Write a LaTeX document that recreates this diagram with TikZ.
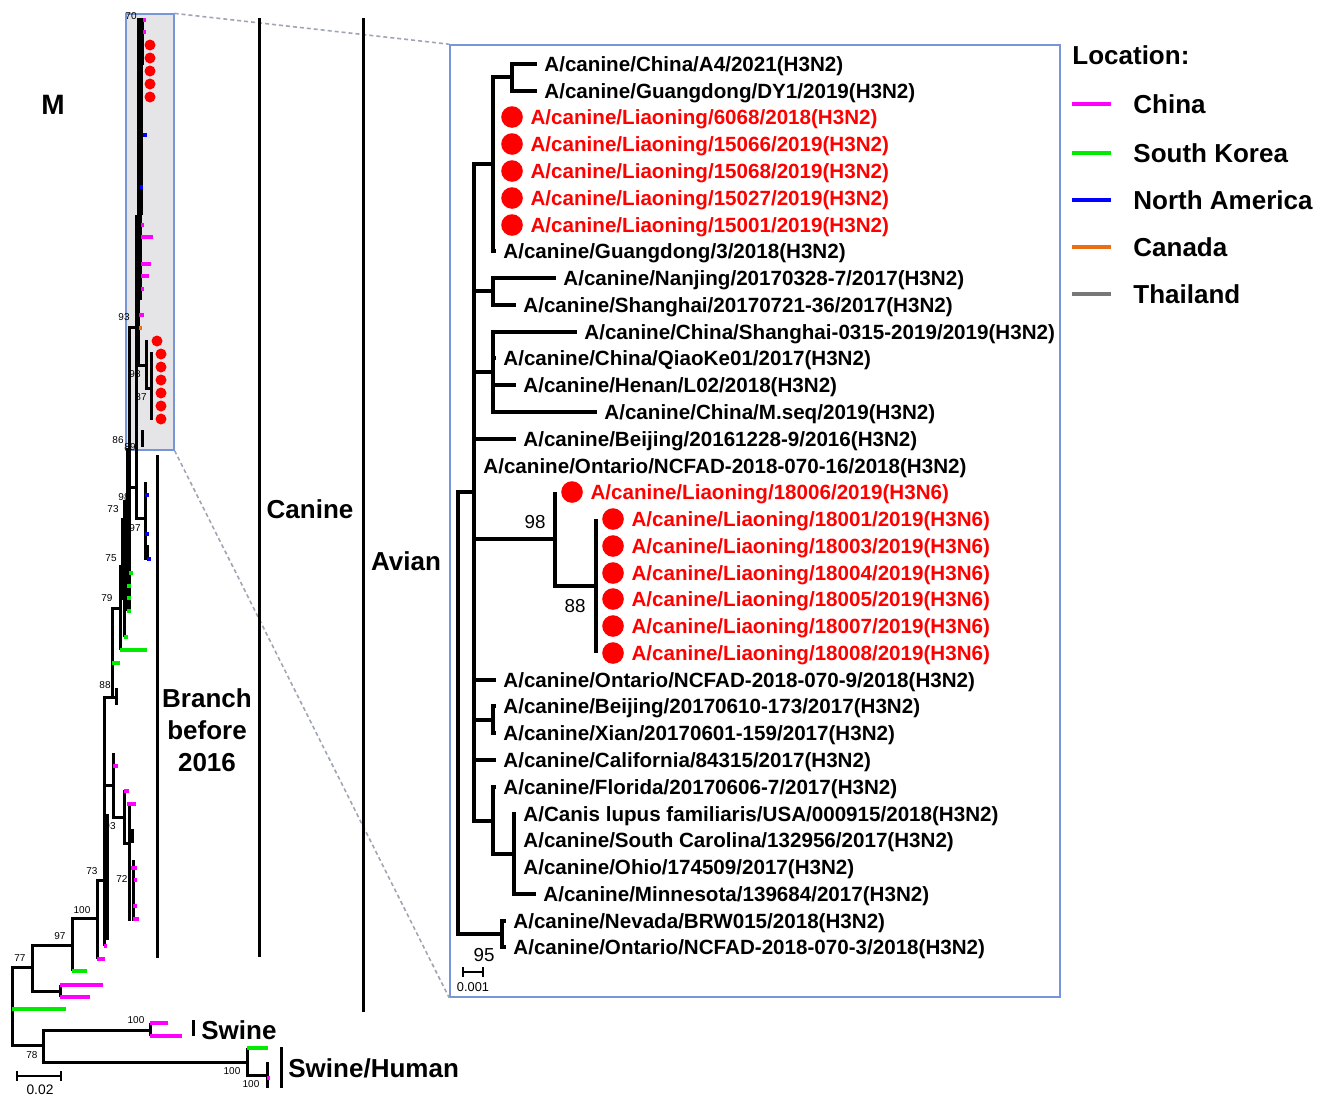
\documentclass[tikz,border=0pt]{standalone}
\usepackage{fontspec}
\setmainfont{Liberation Sans}
\usetikzlibrary{positioning}
\definecolor{cnpink}{RGB}{255,0,255}
\definecolor{krgreen}{RGB}{0,235,0}
\definecolor{nablue}{RGB}{0,0,255}
\definecolor{caorange}{RGB}{235,110,20}
\definecolor{thgray}{RGB}{120,120,120}
\definecolor{boxblue}{RGB}{120,150,215}
\definecolor{focusgray}{RGB}{229,229,231}
\definecolor{linkgray}{RGB}{160,165,180}
\definecolor{hitred}{RGB}{255,0,0}
\tikzset{
  twig/.style={line width=1.5pt},
  itwig/.style={line width=2.2pt},
  ctip/.style={line width=1.7pt},
  lbl/.style={font=\bfseries\fontsize{10.3}{12}\selectfont, inner xsep=3.5pt, inner ysep=0pt,
    text height=7.4pt, text depth=0pt, anchor=west},
  redlbl/.style={lbl, text=hitred},
  hitdot/.style={circle, fill=hitred, inner sep=0pt, minimum size=10.8pt},
  smalldot/.style={circle, fill=hitred, inner sep=0pt, minimum size=5.5pt},
  boot/.style={font=\fontsize{5}{6}\selectfont, inner sep=0pt},
  iboot/.style={font=\fontsize{9.4}{11}\selectfont, inner sep=0pt},
  clade/.style={font=\bfseries\fontsize{13}{16}\selectfont, inner sep=0pt, align=center},
  key/.style={font=\bfseries\fontsize{13}{15}\selectfont, inner sep=0pt, anchor=west},
  link/.style={linkgray, line width=0.8pt, dash pattern=on 2pt off 1.5pt},
}
\begin{document}
\begin{tikzpicture}[x=0.5pt,y=-0.5pt]
  \useasboundingbox (0,0) rectangle (1325,1103);
  \node[draw=boxblue, fill=focusgray, line width=0.6pt, minimum width=24pt, minimum height=218pt,
    inner sep=0pt] (focus) at (150,232) {};
  \node[draw=boxblue, line width=0.8pt, minimum width=305pt, minimum height=476pt,
    inner sep=0pt] (inset) at (755,521) {};
  \draw[link] (focus.north east) -- (inset.north west);
  \draw[link] (focus.south east) -- (inset.south west);

  \begin{scope}[twig]
    \draw (32,967) -| (12,1045) -- (43,1045);
    \draw (60,991) -| (32,945) -- (72,945);
    \draw (60,985) -- (60,997);
    \draw (72,971) |- (97,918);
    \draw (97,959) -- (97,880) -- (104,880);
    \draw (104,946) -- (104,697) -- (116,697);
    \draw (107,814) -- (107,940);
    \draw (116,688) -- (116,705);
    \draw (112,697) -- (112,608) -- (120,608);
    \draw (120,650) -- (120,566) -- (124,566);
    \draw (124,637) -- (124,500);
    \draw (127,611) -- (127,448);
    \draw (122,518) -- (122,600);
    \draw (129,610) -- (129,327) -- (136,327);
    \draw (129,487) -- (136,487);
    \draw (136,327) -- (136,518) -- (145,518);
    \draw (145,482) -- (145,560);
    \draw (147,545) -- (147,560);
    \draw (138,18) -- (138,365) -- (146,365);
    \draw (141,18) -- (141,215);
    \draw (140,60) -- (140,300);
    \draw (142,18) -- (142,65);
    \draw (136,215) -- (136,327);
    \draw (142,430) -- (142,447);
    \draw (146,340) -- (146,388) -- (151,388);
    \draw (151,352) -- (151,420);
    \draw (104,785) -- (113,785);
    \draw (113,753) -- (113,817) -- (124,817);
    \draw (124,790) -- (124,843) -- (129,843);
    \draw (129,803) -- (129,921);
    \draw (132,829) -- (132,843);
    \draw (133,860) -- (133,921);
    \draw (150,1030) -| (43,1062) -- (247,1062);
    \draw (150,1023) -- (150,1036);
    \draw (247,1048) -- (247,1075) -- (267,1075);
    \draw (267,1062) -- (267,1088);
  \end{scope}

  \begin{scope}[ctip, cnpink]
    \draw (60,985) -- (103,985);
    \draw (60,997) -- (90,997);
    \draw (97,959) -- (105,959);
    \draw (104,946) -- (107,946);
    \draw (113,766) -- (118,766);
    \draw (124,791) -- (129,791);
    \draw (127,804) -- (136,804);
    \draw (131,868) -- (137,868);
    \draw (134,880) -- (137,880);
    \draw (133,906) -- (137,906);
    \draw (133,919) -- (139,919);
    \draw (150,1023) -- (168,1023);
    \draw (150,1036) -- (182,1036);
    \draw (267,1078) -- (270,1078);
    \draw (143,20) -- (146,20);
    \draw (143,32) -- (146,32);
    \draw (141,225) -- (144,225);
    \draw (141,237) -- (153,237);
    \draw (141,264) -- (151,264);
    \draw (141,276) -- (149,276);
    \draw (141,289) -- (144,289);
    \draw (139,315) -- (144,315);
  \end{scope}
  \begin{scope}[ctip, krgreen]
    \draw (12,1009) -- (66,1009);
    \draw (72,971) -- (87,971);
    \draw (247,1048) -- (268,1048);
    \draw (120,650) -- (147,650);
    \draw (112,663) -- (120,663);
    \draw (124,637) -- (128,637);
    \draw (127,611) -- (131,611);
    \draw (127,598) -- (131,598);
    \draw (127,586) -- (131,586);
    \draw (129,573) -- (133,573);
  \end{scope}
  \begin{scope}[ctip, nablue]
    \draw (143,135) -- (147,135);
    \draw (140,187) -- (143,187);
    \draw (145,495) -- (149,495);
    \draw (145,534) -- (149,534);
    \draw (147,559) -- (151,559);
  \end{scope}
  \draw[ctip, caorange] (139,328) -- (142,328);

  \node[smalldot] (m1) at (150,45) {};
  \node[smalldot] (m2) at (150,58) {};
  \node[smalldot] (m3) at (150,71) {};
  \node[smalldot] (m4) at (150,84) {};
  \node[smalldot] (m5) at (150,97) {};
  \node[smalldot] (m6) at (157,341) {};
  \node[smalldot] (m7) at (161,354) {};
  \node[smalldot] (m8) at (161,367) {};
  \node[smalldot] (m9) at (161,380) {};
  \node[smalldot] (m10) at (161,393) {};
  \node[smalldot] (m11) at (161,406) {};
  \node[smalldot] (m12) at (161,419) {};

  \node[boot] (b70) at (131,16) {70};
  \node[boot] (b93) at (124,317) {93};
  \node[boot] (b98) at (135,374) {98};
  \node[boot] (b87) at (141,397) {87};
  \node[boot] (b86) at (118,440) {86};
  \node[boot] (b89) at (130,447) {89};
  \node[boot] (b98b) at (124,497) {98};
  \node[boot] (b73) at (113,509) {73};
  \node[boot] (b97) at (135,528) {97};
  \node[boot] (b75) at (111,558) {75};
  \node[boot] (b79) at (107,598) {79};
  \node[boot] (b88) at (105,685) {88};
  \node[boot] (b93b) at (110,826) {93};
  \node[boot] (b73b) at (92,871) {73};
  \node[boot] (b72) at (122,879) {72};
  \node[boot] (b100) at (82,910) {100};
  \node[boot] (b97b) at (60,936) {97};
  \node[boot] (b77) at (20,958) {77};
  \node[boot] (b78) at (32,1055) {78};
  \node[boot] (b100b) at (136,1020) {100};
  \node[boot] (b100c) at (232,1071) {100};
  \node[boot] (b100d) at (251,1084) {100};

  \draw[line width=0.9pt] (17,1071) -- (17,1081) (17,1076) -- (61,1076) (61,1071) -- (61,1081);
  \node[font=\fontsize{6.9}{8}\selectfont, inner sep=0pt] (bar) at (40,1090) {0.02};

  \begin{scope}[twig]
    \draw (157,455) -- (157,958);
    \draw (259,18) -- (259,957);
    \draw (363,18) -- (363,1012);
    \draw (193,1020) -- (193,1036);
    \draw (281,1047) -- (281,1088);
  \end{scope}
  \node[clade, font=\bfseries\fontsize{14}{16}\selectfont] (mclade) at (53,105) {M};
  \node[clade] (old) at (207,730) {Branch\\before\\2016};
  \node[clade] (canine) at (310,509) {Canine};
  \node[clade] (avian) at (406,561) {Avian};
  \node[clade, anchor=west] (swine) at (201,1030) {Swine};
  \node[clade, anchor=west] (swhu) at (288,1068) {Swine/Human};

  \coordinate (rt) at (458,713);
  \coordinate (n1) at (474,492);
  \coordinate (a) at (493,164);
  \coordinate (a1) at (512,77);
  \coordinate (b) at (493,291);
  \coordinate (c) at (493,372);
  \coordinate (f) at (555,539);
  \coordinate (f1) at (596,586);
  \coordinate (h) at (493,720);
  \coordinate (j) at (493,821);
  \coordinate (j1) at (514,854);
  \coordinate (k) at (502,934);

  \node[lbl] (l1) at (537,64) {A/canine/China/A4/2021(H3N2)};
  \node[lbl] (l2) at (537,91) {A/canine/Guangdong/DY1/2019(H3N2)};
  \node[hitdot] (d3) at (512,117) {};
  \node[redlbl, right=0pt of d3] (l3) {A/canine/Liaoning/6068/2018(H3N2)};
  \node[hitdot] (d4) at (512,144) {};
  \node[redlbl, right=0pt of d4] (l4) {A/canine/Liaoning/15066/2019(H3N2)};
  \node[hitdot] (d5) at (512,171) {};
  \node[redlbl, right=0pt of d5] (l5) {A/canine/Liaoning/15068/2019(H3N2)};
  \node[hitdot] (d6) at (512,198) {};
  \node[redlbl, right=0pt of d6] (l6) {A/canine/Liaoning/15027/2019(H3N2)};
  \node[hitdot] (d7) at (512,225) {};
  \node[redlbl, right=0pt of d7] (l7) {A/canine/Liaoning/15001/2019(H3N2)};
  \node[lbl] (l8) at (496,251) {A/canine/Guangdong/3/2018(H3N2)};
  \node[lbl] (l9) at (556,278) {A/canine/Nanjing/20170328-7/2017(H3N2)};
  \node[lbl] (l10) at (516,305) {A/canine/Shanghai/20170721-36/2017(H3N2)};
  \node[lbl] (l11) at (577,332) {A/canine/China/Shanghai-0315-2019/2019(H3N2)};
  \node[lbl] (l12) at (496,358) {A/canine/China/QiaoKe01/2017(H3N2)};
  \node[lbl] (l13) at (516,385) {A/canine/Henan/L02/2018(H3N2)};
  \node[lbl] (l14) at (597,412) {A/canine/China/M.seq/2019(H3N2)};
  \node[lbl] (l15) at (516,439) {A/canine/Beijing/20161228-9/2016(H3N2)};
  \node[lbl] (l16) at (476,466) {A/canine/Ontario/NCFAD-2018-070-16/2018(H3N2)};
  \node[hitdot] (d17) at (572,492) {};
  \node[redlbl, right=0pt of d17] (l17) {A/canine/Liaoning/18006/2019(H3N6)};
  \node[hitdot] (d18) at (613,519) {};
  \node[redlbl, right=0pt of d18] (l18) {A/canine/Liaoning/18001/2019(H3N6)};
  \node[hitdot] (d19) at (613,546) {};
  \node[redlbl, right=0pt of d19] (l19) {A/canine/Liaoning/18003/2019(H3N6)};
  \node[hitdot] (d20) at (613,573) {};
  \node[redlbl, right=0pt of d20] (l20) {A/canine/Liaoning/18004/2019(H3N6)};
  \node[hitdot] (d21) at (613,599) {};
  \node[redlbl, right=0pt of d21] (l21) {A/canine/Liaoning/18005/2019(H3N6)};
  \node[hitdot] (d22) at (613,626) {};
  \node[redlbl, right=0pt of d22] (l22) {A/canine/Liaoning/18007/2019(H3N6)};
  \node[hitdot] (d23) at (613,653) {};
  \node[redlbl, right=0pt of d23] (l23) {A/canine/Liaoning/18008/2019(H3N6)};
  \node[lbl] (l24) at (496,680) {A/canine/Ontario/NCFAD-2018-070-9/2018(H3N2)};
  \node[lbl] (l25) at (496,706) {A/canine/Beijing/20170610-173/2017(H3N2)};
  \node[lbl] (l26) at (496,733) {A/canine/Xian/20170601-159/2017(H3N2)};
  \node[lbl] (l27) at (496,760) {A/canine/California/84315/2017(H3N2)};
  \node[lbl] (l28) at (496,787) {A/canine/Florida/20170606-7/2017(H3N2)};
  \node[lbl] (l29) at (516,814) {A/Canis lupus familiaris/USA/000915/2018(H3N2)};
  \node[lbl] (l30) at (516,840) {A/canine/South Carolina/132956/2017(H3N2)};
  \node[lbl] (l31) at (516,867) {A/canine/Ohio/174509/2017(H3N2)};
  \node[lbl] (l32) at (536,894) {A/canine/Minnesota/139684/2017(H3N2)};
  \node[lbl] (l33) at (506,921) {A/canine/Nevada/BRW015/2018(H3N2)};
  \node[lbl] (l34) at (506,947) {A/canine/Ontario/NCFAD-2018-070-3/2018(H3N2)};

  \begin{scope}[itwig]
    \draw (rt) |- (n1);
    \draw (rt) |- (k);
    \draw (n1) |- (a);
    \draw (n1) |- (b);
    \draw (n1) |- (c);
    \draw (n1) |- (l15.west);
    \draw (n1) |- (l16.west);
    \draw (n1) |- (f);
    \draw (n1) |- (l24.west);
    \draw (n1) |- (h);
    \draw (n1) |- (l27.west);
    \draw (n1) |- (j);
    \draw (a) |- (a1);
    \draw (a) |- (l8.west);
    \draw (a1) |- (l1.west);
    \draw (a1) |- (l2.west);
    \draw (b) |- (l9.west);
    \draw (b) |- (l10.west);
    \draw (c) |- (l11.west);
    \draw (c) |- (l12.west);
    \draw (c) |- (l13.west);
    \draw (c) |- (l14.west);
    \draw (f) -- (f |- d17);
    \draw (f) |- (f1);
    \draw (f1 |- d18) -- (f1 |- d23);
    \draw (h) |- (l25.west);
    \draw (h) |- (l26.west);
    \draw (j) |- (l28.west);
    \draw (j) |- (j1);
    \draw (j1) |- (l29.west);
    \draw (j1) |- (l30.west);
    \draw (j1) |- (l31.west);
    \draw (j1) |- (l32.west);
    \draw (k) |- (l33.west);
    \draw (k) |- (l34.west);
  \end{scope}
  \node[iboot] (s98) at (535,522) {98};
  \node[iboot] (s88) at (575,606) {88};
  \node[iboot] (s95) at (484,955) {95};
  \draw[line width=0.8pt] (463,967) -- (463,977) (463,972) -- (483,972) (483,967) -- (483,977);
  \node[font=\fontsize{6.4}{8}\selectfont, inner sep=0pt] (ibar) at (473,987) {0.001};

  \node[key] (loc) at (1072,55) {Location:};
  \draw[line width=2pt, cnpink] (1072,104) -- (1111,104);
  \node[key] (kcn) at (1133,104) {China};
  \draw[line width=2pt, krgreen] (1072,153) -- (1111,153);
  \node[key] (kkr) at (1133,153) {South Korea};
  \draw[line width=2pt, nablue] (1072,200) -- (1111,200);
  \node[key] (kna) at (1133,200) {North America};
  \draw[line width=2pt, caorange] (1072,247) -- (1111,247);
  \node[key] (kca) at (1133,247) {Canada};
  \draw[line width=2pt, thgray] (1072,294) -- (1111,294);
  \node[key] (kth) at (1133,294) {Thailand};
\end{tikzpicture}
\end{document}
